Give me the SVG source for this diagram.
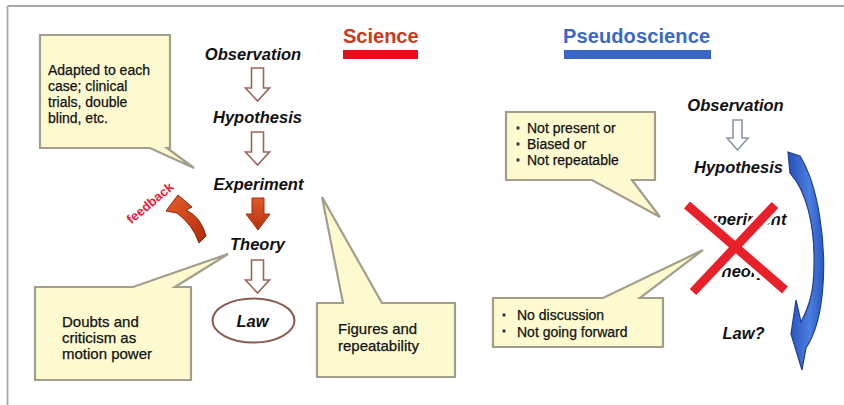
<svg xmlns="http://www.w3.org/2000/svg" width="844" height="405" viewBox="0 0 844 405">
<defs>
<style>
.lbl{font-family:"Liberation Sans",Arial,sans-serif;font-weight:bold;font-style:italic;font-size:16.5px;fill:#111;text-anchor:middle}
.note{font-family:"Liberation Sans",Arial,sans-serif;font-size:14px;fill:#111;stroke:#111;stroke-width:0.25}
.note15{font-family:"Liberation Sans",Arial,sans-serif;font-size:15px;fill:#111;stroke:#111;stroke-width:0.25}
.call{fill:#fdfad0;stroke:#a39e8c;stroke-width:2.2;stroke-linejoin:miter}
.hollow{fill:#fff;stroke:#9a6658;stroke-width:1.6}
.hollowb{fill:#fff;stroke:#8a96aa;stroke-width:1.6}
.bul{fill:#333a48}
</style>
<linearGradient id="redg" x1="0" y1="0" x2="0" y2="1">
<stop offset="0" stop-color="#dd5a2a"/>
<stop offset="1" stop-color="#b8300e"/>
</linearGradient>
<linearGradient id="fbg" x1="0" y1="0" x2="1" y2="1">
<stop offset="0" stop-color="#e8602a"/>
<stop offset="1" stop-color="#b02a08"/>
</linearGradient>
<linearGradient id="blueg" x1="0" y1="0" x2="1" y2="0">
<stop offset="0" stop-color="#2850b8"/>
<stop offset="0.6" stop-color="#4a7ee0"/>
<stop offset="1" stop-color="#2a58c0"/>
</linearGradient>
</defs>
<rect width="844" height="405" fill="#fff"/>
<g id="frame" fill="none" stroke="#a8a8a8" stroke-width="1.8">
<line x1="7.5" y1="6" x2="844" y2="6"/>
<line x1="7.5" y1="6" x2="7.5" y2="405"/>
</g>

<g id="title-science">
<text x="343" y="43" font-family="'Liberation Sans',Arial,sans-serif" font-weight="bold" font-size="20" fill="#cc3a1c">Science</text>
<rect x="343" y="50" width="75" height="9" fill="#e4101e"/>
</g>
<g id="title-pseudoscience">
<text x="563" y="43" font-family="'Liberation Sans',Arial,sans-serif" font-weight="bold" font-size="20" fill="#3a68c4" textLength="147">Pseudoscience</text>
<rect x="564" y="50" width="147" height="9" fill="#3a64c6"/>
</g>

<g id="callout-adapted">
<path class="call" d="M40 35 H170 V148 H167 L194 168 L150 148 H40 Z"/>
<text class="note" x="48" y="75">Adapted to each</text>
<text class="note" x="48" y="91">case; clinical</text>
<text class="note" x="48" y="107">trials, double</text>
<text class="note" x="48" y="123">blind, etc.</text>
</g>
<g id="callout-doubts">
<path class="call" d="M35 287 H133 L228 254 L175 287 H191 V380 H35 Z"/>
<text class="note15" x="62" y="327">Doubts and</text>
<text class="note15" x="62" y="343">criticism as</text>
<text class="note15" x="62" y="359">motion power</text>
</g>
<g id="callout-figures">
<path class="call" d="M317 303 H343 L322 197 L382 303 H455 V377 H317 Z"/>
<text class="note15" x="338" y="334">Figures and</text>
<text class="note15" x="338" y="351">repeatability</text>
</g>
<g id="callout-notpresent">
<path class="call" d="M506 112 H655 V180 H632 L660 217 L592 180 H506 Z"/>
<rect class="bul" x="516.5" y="126.5" width="3" height="3"/>
<rect class="bul" x="516.5" y="142.5" width="3" height="3"/>
<rect class="bul" x="516.5" y="158.5" width="3" height="3"/>
<text class="note" x="527" y="133">Not present or</text>
<text class="note" x="527" y="149">Biased or</text>
<text class="note" x="527" y="165">Not repeatable</text>
</g>
<g id="callout-nodiscussion">
<path class="call" d="M493 298 H603 L703 250 L640 298 H663 V347 H493 Z"/>
<rect class="bul" x="502.5" y="313.5" width="3" height="3"/>
<rect class="bul" x="502.5" y="329.5" width="3" height="3"/>
<text class="note" x="517" y="320">No discussion</text>
<text class="note" x="517" y="336.5">Not going forward</text>
</g>

<g id="sci-observation"><text class="lbl" x="253" y="60">Observation</text></g>
<g id="sci-hypothesis"><text class="lbl" x="257.5" y="123">Hypothesis</text></g>
<g id="sci-experiment"><text class="lbl" x="258.5" y="190">Experiment</text></g>
<g id="sci-theory"><text class="lbl" x="257.5" y="250">Theory</text></g>
<g id="sci-law">
<ellipse cx="253.5" cy="320.5" rx="41" ry="22" fill="#fff" stroke="#8a5a50" stroke-width="2"/>
<text class="lbl" x="252.5" y="327">Law</text>
</g>

<g id="ps-observation"><text class="lbl" x="735.5" y="111">Observation</text></g>
<g id="ps-hypothesis"><text class="lbl" x="738.5" y="173">Hypothesis</text></g>
<g id="ps-experiment"><text class="lbl" x="741.5" y="225">Experiment</text></g>
<g id="ps-theory"><text class="lbl" x="739" y="277">Theory</text></g>
<g id="ps-law"><text class="lbl" x="743.5" y="339">Law?</text></g>

<g id="connectors">
<path class="hollow" d="M251.5 68 H263.5 V88 H269.5 L257.5 101 L245.5 88 H251.5 Z"/>
<path class="hollow" d="M251.5 132 H263.5 V152 H269.5 L257.5 165 L245.5 152 H251.5 Z"/>
<path d="M252 198 H264 V214 H270 L258 230 L246 214 H252 Z" fill="url(#redg)" stroke="#a82a0c" stroke-width="1"/>
<path class="hollow" d="M251.5 260 H263.5 V280 H269.5 L257.5 293 L245.5 280 H251.5 Z"/>
<path id="feedback-arrow" d="M178 195 L192 207 L186 210 Q201 217 206 236 L199 243 Q193 225 177 213 L166 211 Z" fill="url(#fbg)" stroke="#8a2206" stroke-width="1"/>
<text x="0" y="4.5" transform="translate(150,203) rotate(-40)" font-family="'Liberation Sans',Arial,sans-serif" font-weight="bold" font-size="13" fill="#e41e3c" text-anchor="middle">feedback</text>
<path class="hollowb" d="M733 120 H742 V138 H748 L737.5 150 L727 138 H733 Z"/>
<path id="blue-arrow" d="M788 152 L800 156 C818 185 826 240 823 285 C821 315 814 336 806 348 L802 370 L791 334 L796 300 L801 322 C810 305 814 290 814 265 C815 225 806 190 790 173 Z" fill="url(#blueg)" stroke="#1f3f8f" stroke-width="1.2"/>
</g>

<g id="cross" stroke-linecap="butt">
<line x1="687" y1="205" x2="785" y2="290" stroke="#fff" stroke-width="16"/>
<line x1="775" y1="205" x2="693" y2="292" stroke="#fff" stroke-width="16"/>
<line x1="687" y1="205" x2="785" y2="290" stroke="#e8202a" stroke-width="9"/>
<line x1="775" y1="205" x2="693" y2="292" stroke="#e8202a" stroke-width="9"/>
</g>
</svg>
